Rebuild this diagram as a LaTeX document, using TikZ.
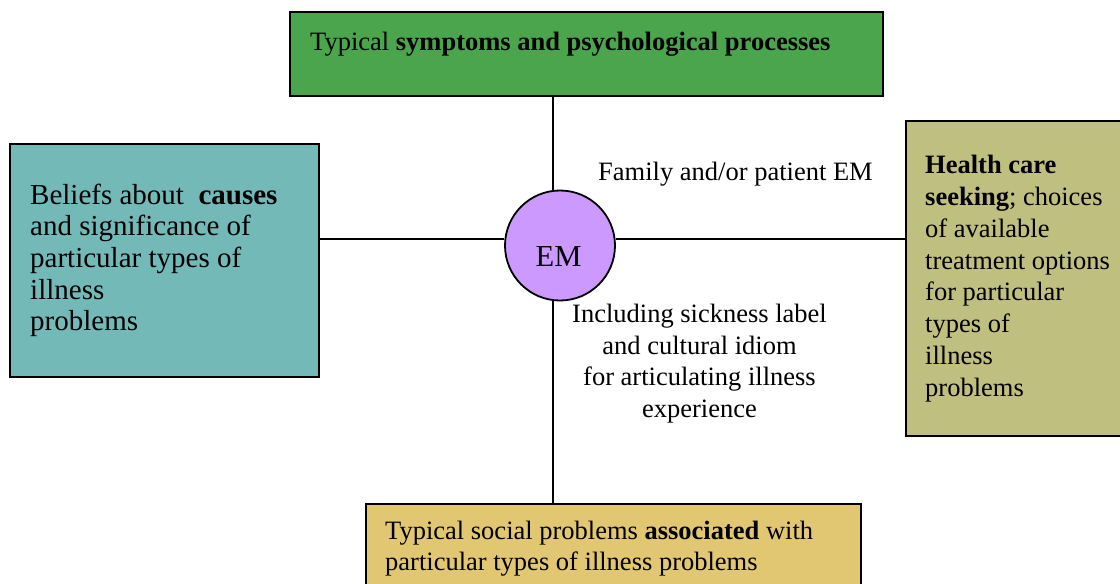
\documentclass[tikz,border=0pt]{standalone}
\usepackage{fontspec}
\setmainfont{Liberation Serif}
\usetikzlibrary{backgrounds}
\definecolor{symgreen}{HTML}{4BA54D}
\definecolor{causeteal}{HTML}{72B9B7}
\definecolor{careolive}{HTML}{BFBF7F}
\definecolor{socialgold}{HTML}{E2C772}
\definecolor{empurple}{HTML}{CC99FF}
\begin{document}
\begin{tikzpicture}[x=1pt,y=-1pt,
  panel/.style={draw=black, line width=1.8pt, rectangle, inner sep=0pt, anchor=north west},
  body/.style={inner sep=0pt, anchor=base west, align=left, font=\fontsize{26.5}{31.8}\selectfont},
  note/.style={inner sep=0pt, align=center, font=\fontsize{26.5}{31.6}\selectfont},
  link/.style={line width=1.8pt}]
\useasboundingbox (0,0) rectangle (1120,584);
\clip (0,0) rectangle (1120,584);

% the four panels around the centre
\node[panel, fill=symgreen, minimum width=593pt, minimum height=84pt] (symptoms) at (289,11) {};
\node[panel, fill=causeteal, minimum width=309pt, minimum height=233pt] (causes) at (9,143) {};
\node[panel, fill=careolive, minimum width=240pt, minimum height=315pt] (care) at (905,120) {};
\node[panel, fill=socialgold, minimum width=495pt, minimum height=110pt] (social) at (365,503) {};

% explanatory model in the middle
\node[circle, draw=black, line width=1.8pt, fill=empurple, minimum size=110pt, inner sep=0pt] (em) at (560,245.5) {};
\node[inner sep=0pt, anchor=base, font=\fontsize{30.5}{36}\selectfont] (emtext) at (558.5,266) {EM};

% axes through the centre
\coordinate (vx) at (553,0);
\coordinate (hy) at (0,239);
\begin{scope}[on background layer]
  \draw[link] (symptoms.south -| vx) -- (em.north -| vx);
  \draw[link] (em.south -| vx) -- (social.north -| vx);
  \draw[link] (causes.east |- hy) -- (em.west |- hy);
  \draw[link] (em.east |- hy) -- (care.west |- hy);
\end{scope}

% panel texts (multi-line texts are placed by the baseline of their last line)
\node[body] (symtext) at (310,50) {Typical \textbf{symptoms and psychological processes}};
\node[body, font=\fontsize{29}{31.7}\selectfont] (causetext) at (30,330.8)
  {Beliefs about \ \textbf{causes}\\and significance of\\particular types of\\illness\\problems};
\node[body] (caretext) at (925,396.3)
  {\textbf{Health care}\\\textbf{seeking}; choices\\of available\\treatment options\\for particular\\types of\\illness\\problems};
\node[body, font=\fontsize{26.5}{31}\selectfont] (socialtext) at (385,570)
  {Typical social problems \textbf{associated} with\\particular types of illness problems};

% labels beside the axes
\node[inner sep=0pt, anchor=base west, font=\fontsize{26.5}{31.8}\selectfont] (family) at (598,180) {Family and/or patient EM};
\node[note, anchor=base] (idiom) at (699.5,417.5)
  {Including sickness label\\and cultural idiom\\for articulating illness\\experience};
\end{tikzpicture}
\end{document}
